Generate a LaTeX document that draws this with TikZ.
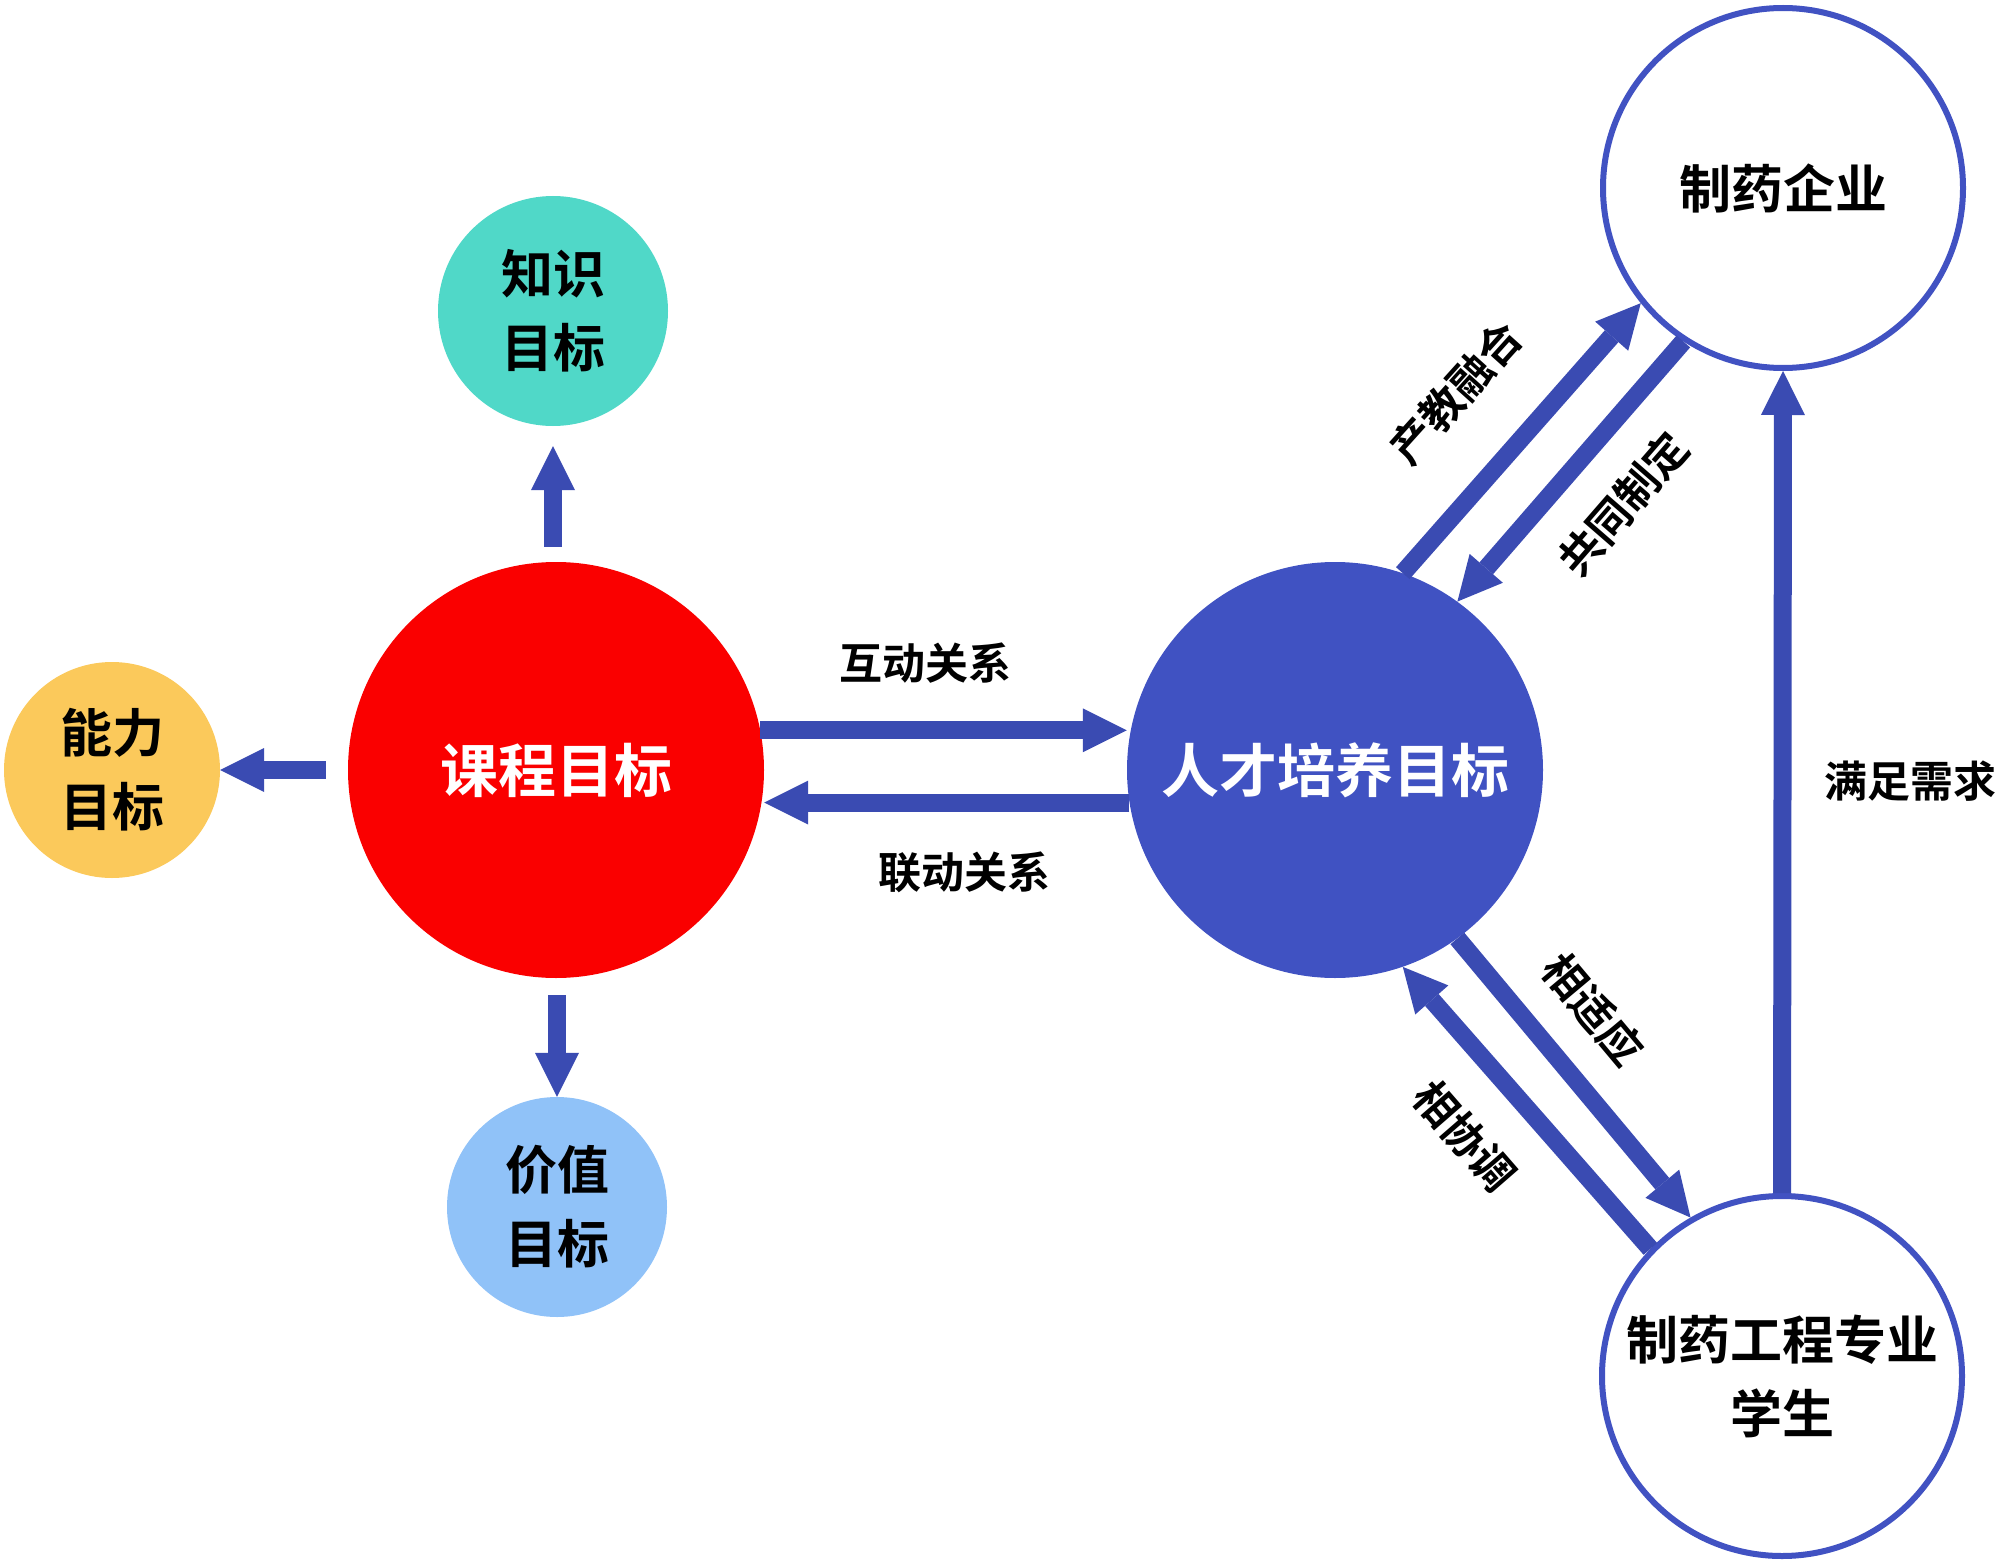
\documentclass[tikz,border=0pt]{standalone}
\usepackage{fontspec}
\setmainfont{Noto Sans CJK SC}[BoldFont={Noto Sans CJK SC Bold}]
\usetikzlibrary{arrows.meta}
\definecolor{arrowblue}{HTML}{3A4BB2}
\definecolor{ringblue}{HTML}{4152C2}
\definecolor{coreblue}{HTML}{4052C2}
\definecolor{coured}{HTML}{FA0000}
\definecolor{teal}{HTML}{50D8C8}
\definecolor{amber}{HTML}{FBC95B}
\definecolor{sky}{HTML}{90C2F8}
\tikzset{
  goal/.style={circle, inner sep=0pt, align=center, text=black,
    font=\bfseries\fontsize{52}{74}\selectfont},
  core/.style={circle, inner sep=0pt, minimum size=416pt, text=white,
    font=\bfseries\fontsize{58}{58}\selectfont},
  ring/.style={circle, inner sep=0pt, draw=ringblue, line width=6pt, fill=white,
    minimum size=360pt, align=center, text=black,
    font=\bfseries\fontsize{52}{74}\selectfont},
  fat/.style={draw=arrowblue, line width=18pt,
    -{Triangle[width=44pt,length=44pt,line width=0pt]}},
  lbl/.style={inner sep=0pt, text=black, font=\bfseries\fontsize{43}{43}\selectfont}
}
\begin{document}
\begin{tikzpicture}[x=1pt,y=-1pt]
\useasboundingbox (0,0) rectangle (2000,1565);
% main goals
\node[core, fill=coured] (red) at (556,770) {课程目标};
\node[core, fill=coreblue] (blue) at (1335,770) {人才培养目标};
% sub goals
\node[goal, fill=teal, minimum size=230pt] (know) at (553,311) {知识\\目标};
\node[goal, fill=amber, minimum size=216pt] (abil) at (112,770) {能力\\目标};
\node[goal, fill=sky, minimum size=220pt] (val) at (557,1207) {价值\\目标};
% partners
\node[ring] (ent) at (1783,188) {制药企业};
\node[ring] (stu) at (1782,1376) {制药工程专业\\学生};
% arrows from course goals
\draw[fat, shorten <=15pt, shorten >=20pt] (know.south |- red.north) -- (know.south);
\draw[fat, shorten <=22pt] (red.west) -- (abil.east);
\draw[fat, shorten <=17pt] (val.north |- red.south) -- (val.north);
% between main goals
\draw[fat] (red.11.6) -- (red.11.6 -| blue.west);
\draw[fat] (blue.189.4) -- (blue.189.4 -| red.east);
\node[lbl] (l1) at (925,663) {互动关系};
\node[lbl] (l2) at (964,872) {联动关系};
% enterprise
\draw[fat] (blue.71) -- (ent.219.6);
\draw[fat] (ent.237) -- (blue.54.6);
\node[lbl, rotate=48] (l3) at (1456,393) {产教融合};
\node[lbl, rotate=49] (l4) at (1623,504) {共同制定};
% student
\draw[fat] (blue.-54.6) -- (stu.120.4);
\draw[fat] (stu.136.6) -- (blue.-71);
\node[lbl, rotate=-50] (l5) at (1593,1009) {相适应};
\node[lbl, rotate=-49] (l6) at (1465,1136) {相协调};
% student to enterprise
\draw[fat] (stu.north) -- (ent.south);
\node[lbl] (l7) at (1910,781) {满足需求};
\end{tikzpicture}
\end{document}
